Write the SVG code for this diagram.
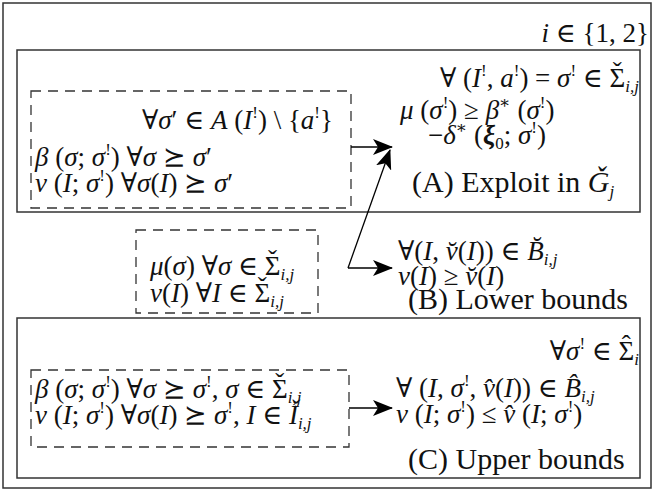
<svg xmlns="http://www.w3.org/2000/svg" width="655" height="491" viewBox="0 0 655 491">
<defs>
<style>
text{font-family:"Liberation Serif","DejaVu Serif",serif;font-size:27px;fill:#111}
.lbl{font-size:30px}
.i{font-style:italic}
.s{font-size:17px}
.b{font-weight:bold;font-style:italic}
.frame{fill:none;stroke:#333;stroke-width:1.5}
.dash{fill:none;stroke:#333;stroke-width:1.3;stroke-dasharray:10,7}
.conn{fill:none;stroke:#000;stroke-width:1.3}
</style>
<marker id="ah" viewBox="0 0 20 16" refX="19" refY="8" markerWidth="20" markerHeight="16" markerUnits="userSpaceOnUse" orient="auto">
<path d="M0,0 L20,8 L0,16 L5,8 Z" fill="#000"/>
</marker>
</defs>
<rect width="655" height="491" fill="#fff"/>
<g id="outer">
<rect class="frame" x="3" y="3" width="648" height="485"/>
<text x="649" y="42" text-anchor="end"><tspan class="i">i</tspan> ∈ {1, 2}</text>
</g>
<g id="boxA">
<rect class="frame" x="17" y="50" width="623" height="162"/>
<text x="639" y="87" text-anchor="end">∀ (<tspan class="i">I</tspan><tspan class="s" dy="-11">!</tspan><tspan dy="11">, </tspan><tspan class="i">a</tspan><tspan class="s" dy="-11">!</tspan><tspan dy="11">) = </tspan><tspan class="i">σ</tspan><tspan class="s" dy="-11">!</tspan><tspan dy="11"> ∈ Σ</tspan><tspan dx="-12.5" dy="-6">ˇ</tspan><tspan class="s i" dx="3.5" dy="11">i,j</tspan></text>
<text x="400" y="119"><tspan class="i">μ</tspan> (<tspan class="i">σ</tspan><tspan class="s" dy="-11">!</tspan><tspan dy="11">) ≥ </tspan><tspan class="i">β</tspan><tspan class="s" dy="-11">∗</tspan><tspan dy="11"> (</tspan><tspan class="i">σ</tspan><tspan class="s" dy="-11">!</tspan><tspan dy="11">)</tspan></text>
<text x="428" y="144">−<tspan class="i">δ</tspan><tspan class="s" dy="-11">∗</tspan><tspan dy="11"> (</tspan><tspan class="b">ξ</tspan><tspan class="s" dy="5">0</tspan><tspan dy="-5">; </tspan><tspan class="i">σ</tspan><tspan class="s" dy="-11">!</tspan><tspan dy="11">)</tspan></text>
<text class="lbl" x="412" y="192">(A) Exploit in <tspan class="i">Ǧ</tspan><tspan class="s i" dy="5">j</tspan></text>
</g>
<g id="dashA">
<rect class="dash" x="31" y="91" width="320" height="117"/>
<text x="333" y="129" text-anchor="end">∀<tspan class="i">σ</tspan>′ ∈ <tspan class="i">A</tspan> (<tspan class="i">I</tspan><tspan class="s" dy="-11">!</tspan><tspan dy="11">) \ {</tspan><tspan class="i">a</tspan><tspan class="s" dy="-11">!</tspan><tspan dy="11">}</tspan></text>
<text x="35" y="166"><tspan class="i">β</tspan> (<tspan class="i">σ</tspan>; <tspan class="i">σ</tspan><tspan class="s" dy="-11">!</tspan><tspan dy="11">)  ∀</tspan><tspan class="i">σ</tspan> ⪰ <tspan class="i">σ</tspan>′</text>
<text x="35" y="192"><tspan class="i">ν</tspan> (<tspan class="i">I</tspan>; <tspan class="i">σ</tspan><tspan class="s" dy="-11">!</tspan><tspan dy="11">)  ∀</tspan><tspan class="i">σ</tspan>(<tspan class="i">I</tspan>) ⪰ <tspan class="i">σ</tspan>′</text>
</g>
<g id="dashB">
<rect class="dash" x="136" y="230" width="182" height="83"/>
<text x="150" y="275"><tspan class="i">μ</tspan>(<tspan class="i">σ</tspan>) ∀<tspan class="i">σ</tspan> ∈ Σ<tspan dx="-12.5" dy="-6">ˇ</tspan><tspan class="s i" dx="3.5" dy="11">i,j</tspan></text>
<text x="150" y="302"><tspan class="i">v</tspan>(<tspan class="i">I</tspan>) ∀<tspan class="i">I</tspan>  ∈ Σ<tspan dx="-12.5" dy="-6">ˇ</tspan><tspan class="s i" dx="3.5" dy="11">i,j</tspan></text>
</g>
<g id="boundsB">
<text x="398" y="260">∀(<tspan class="i">I</tspan>, <tspan class="i">v̆</tspan>(<tspan class="i">I</tspan>)) ∈ <tspan class="i">B̆</tspan><tspan class="s i" dy="5">i,j</tspan></text>
<text x="398" y="285"><tspan class="i">v</tspan>(<tspan class="i">I</tspan>) ≥ <tspan class="i">v̆</tspan>(<tspan class="i">I</tspan>)</text>
<text class="lbl" x="408" y="309">(B) Lower bounds</text>
</g>
<g id="boxC">
<rect class="frame" x="17" y="318" width="623" height="160"/>
<text x="639" y="360" text-anchor="end">∀<tspan class="i">σ</tspan><tspan class="s" dy="-11">!</tspan><tspan dy="11"> ∈ Σ</tspan><tspan dx="-12.5" dy="-6">ˆ</tspan><tspan class="s i" dx="3.5" dy="11">i</tspan></text>
<text x="396" y="397">∀ (<tspan class="i">I</tspan>, <tspan class="i">σ</tspan><tspan class="s" dy="-11">!</tspan><tspan dy="11">, </tspan><tspan class="i">v̂</tspan>(<tspan class="i">I</tspan>)) ∈ <tspan class="i">B̂</tspan><tspan class="s i" dy="5">i,j</tspan></text>
<text x="396" y="423"><tspan class="i">ν</tspan> (<tspan class="i">I</tspan>; <tspan class="i">σ</tspan><tspan class="s" dy="-11">!</tspan><tspan dy="11">) ≤ </tspan><tspan class="i">v̂</tspan> (<tspan class="i">I</tspan>; <tspan class="i">σ</tspan><tspan class="s" dy="-11">!</tspan><tspan dy="11">)</tspan></text>
<text class="lbl" x="408" y="469">(C) Upper bounds</text>
</g>
<g id="dashC">
<rect class="dash" x="31" y="370" width="318" height="77"/>
<text x="35" y="398"><tspan class="i">β</tspan> (<tspan class="i">σ</tspan>; <tspan class="i">σ</tspan><tspan class="s" dy="-11">!</tspan><tspan dy="11">)  ∀</tspan><tspan class="i">σ</tspan> ⪰ <tspan class="i">σ</tspan><tspan class="s" dy="-11">!</tspan><tspan dy="11">, </tspan><tspan class="i">σ</tspan> ∈ Σ<tspan dx="-12.5" dy="-6">ˇ</tspan><tspan class="s i" dx="3.5" dy="11">i,j</tspan></text>
<text x="35" y="424"><tspan class="i">ν</tspan> (<tspan class="i">I</tspan>; <tspan class="i">σ</tspan><tspan class="s" dy="-11">!</tspan><tspan dy="11">)  ∀</tspan><tspan class="i">σ</tspan>(<tspan class="i">I</tspan>) ⪰ <tspan class="i">σ</tspan><tspan class="s" dy="-11">!</tspan><tspan dy="11">, </tspan><tspan class="i">I</tspan> ∈ <tspan class="i">Ǐ</tspan><tspan class="s i" dy="5">i,j</tspan></text>
</g>
<g id="connectors">
<line class="conn" x1="351" y1="147" x2="392" y2="147" marker-end="url(#ah)"/>
<line class="conn" x1="348" y1="268" x2="390" y2="150" marker-end="url(#ah)"/>
<line class="conn" x1="348" y1="268" x2="392" y2="268" marker-end="url(#ah)"/>
<line class="conn" x1="349" y1="408" x2="392" y2="408" marker-end="url(#ah)"/>
</g>
</svg>
